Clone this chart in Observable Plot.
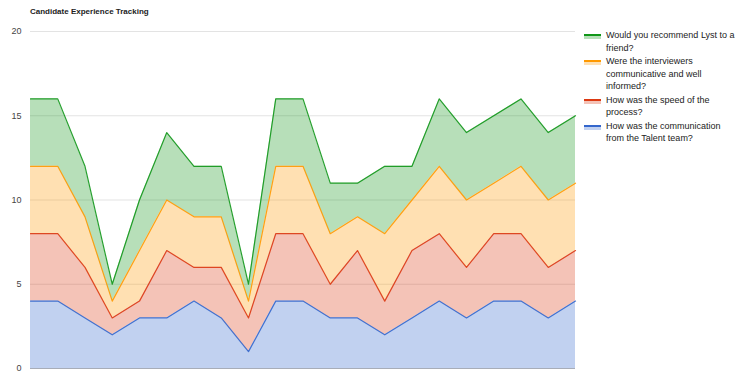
<!DOCTYPE html>
<html><head><meta charset="utf-8">
<script src="https://cdn.jsdelivr.net/npm/d3@7"></script>
<script src="https://cdn.jsdelivr.net/npm/@observablehq/plot@0.6"></script>
<style>
body{margin:0;background:#fff;font-family:"Liberation Sans",Arial,sans-serif}
#wrap{position:relative;width:740px;height:384px}
#title{position:absolute;left:30px;top:6px;font-size:8px;font-weight:bold;color:#222;line-height:12px}
#legend{position:absolute;left:584px;top:29px;font-size:9px;color:#222}
.item{display:flex;align-items:flex-start;margin-bottom:1px;line-height:12.5px}
.sw{width:17px;height:5px;margin-top:5px;margin-right:5px;flex:none;box-sizing:border-box}
.txt{width:132px}
svg{position:absolute;left:0;top:0}
</style></head><body>
<div id="wrap"><div id="title">Candidate Experience Tracking</div><div id="legend"></div></div>
<script>
// bottom to top stacking order
const series = [
  "How was the communication from the Talent team?",
  "How was the speed of the process?",
  "Were the interviewers communicative and well informed?",
  "Would you recommend Lyst to a friend?"
];
const colors = ["#3366cc", "#dc3912", "#ff9900", "#109618"];
const communication = [4,4,3,2,3,3,4,3,1,4,4,3,3,2,3,4,3,4,4,3,4];
const speed         = [4,4,3,1,1,4,2,3,2,4,4,2,4,2,4,4,3,4,4,3,3];
const interviewers  = [4,4,3,1,3,3,3,3,1,4,4,3,2,4,3,4,4,3,4,4,4];
const recommend     = [4,4,3,1,3,4,3,3,1,4,4,3,2,4,2,4,4,4,4,4,4];
const yTicks = [0,5,10,15,20];

const valuesBySeries = [communication, speed, interviewers, recommend];
const data = [];
valuesBySeries.forEach((vals, k) => vals.forEach((v, i) => data.push({i, v, s: series[k]})));

const chart = Plot.plot({
  width: 740, height: 384,
  marginLeft: 30, marginRight: 165, marginTop: 31, marginBottom: 16,
  style: {fontFamily: "'Liberation Sans', Arial, sans-serif", fontSize: "9px", color: "#444", background: "transparent"},
  x: {domain: [0, communication.length - 1], axis: null},
  y: {domain: [0, 20], ticks: yTicks, tickSize: 0, tickPadding: 9, label: null},
  color: {domain: series, range: colors},
  marks: [
    Plot.ruleY(yTicks.filter(t => t > 0), {stroke: "#e3e3e3"}),
    Plot.areaY(data, {x: "i", y: "v", fill: "s", fillOpacity: 0.3, order: series}),
    Plot.lineY(data, Plot.stackY2({x: "i", y: "v", z: "s", stroke: "s", strokeWidth: 1.2, strokeOpacity: 0.9, order: series})),
    Plot.ruleY([0], {stroke: "#a8adb8"})
  ]
});
document.getElementById("wrap").appendChild(chart);

const legend = document.getElementById("legend");
for (let k = series.length - 1; k >= 0; k--) {
  const it = document.createElement("div");
  it.className = "item";
  const sw = document.createElement("div");
  sw.className = "sw";
  sw.style.borderTop = "2px solid " + colors[k];
  sw.style.background = d3.color(colors[k]).copy({opacity: 0.3}).formatRgb();
  const t = document.createElement("div");
  t.className = "txt";
  t.textContent = series[k];
  it.appendChild(sw); it.appendChild(t);
  legend.appendChild(it);
}
</script>
</body></html>
